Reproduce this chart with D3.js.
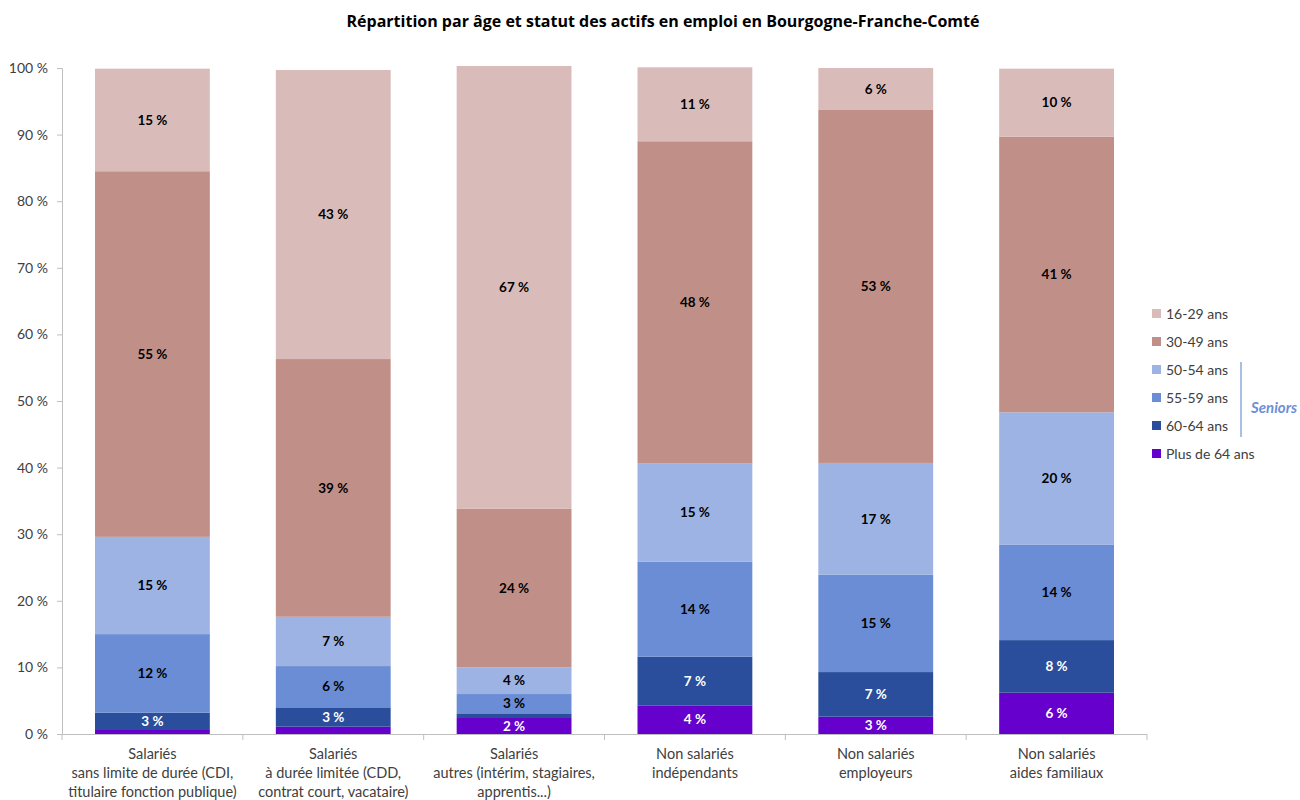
<!DOCTYPE html>
<html><head><meta charset="utf-8">
<script src="https://cdn.jsdelivr.net/npm/d3@7"></script>
<style>body{margin:0;background:#fff;} svg{display:block;font-family:Lato,"Open Sans",sans-serif;}</style>
</head><body>
<svg id="c" width="1300" height="800"></svg>
<script>
const title = "Répartition par âge et statut des actifs en emploi en Bourgogne-Franche-Comté";
const categories = [
  ["Salariés","sans limite de durée (CDI,","titulaire fonction publique)"],
  ["Salariés","à durée limitée (CDD,","contrat court, vacataire)"],
  ["Salariés","autres (intérim, stagiaires,","apprentis...)"],
  ["Non salariés","indépendants"],
  ["Non salariés","employeurs"],
  ["Non salariés","aides familiaux"]
];
const seriesNames = ["Plus de 64 ans","60-64 ans","55-59 ans","50-54 ans","30-49 ans","16-29 ans"];
const seriesColors = ["#6600cc","#2a4e9c","#6a8dd6","#9db3e3","#c09088","#d9bcb9"];
const plus64  = [0.6, 1.1, 2.4, 4.3, 2.6, 6.2];
const age6064 = [2.6, 2.9, 0.7, 7.3, 6.7, 7.9];
const age5559 = [11.8, 6.2, 2.9, 14.3, 14.6, 14.3];
const age5054 = [14.6, 7.4, 4.0, 14.7, 16.8, 19.9];
const age3049 = [54.9, 38.7, 23.8, 48.4, 53.0, 41.4];
const age1629 = [15.4, 43.4, 66.5, 11.1, 6.3, 10.2];
const yTicks = [0,10,20,30,40,50,60,70,80,90,100];
const seniorsLabel = "Seniors";

const seriesValues = [plus64, age6064, age5559, age5054, age3049, age1629];
const labelColors = ["#ffffff","#ffffff","#000000","#000000","#000000","#000000"];

const svg = d3.select("#c");
const x = d3.scaleBand().domain(d3.range(categories.length)).range([62,1147]).paddingInner(0.365).paddingOuter(0.1825);
const y = d3.scaleLinear().domain([0,100]).range([734,68]);

svg.append("text").attr("x",663).attr("y",27).attr("text-anchor","middle")
  .attr("font-family","'Open Sans',sans-serif")
  .attr("font-size",16).attr("font-weight","bold").attr("fill","#000").text(title);

// Y axis
const yAxis = svg.append("g").attr("transform","translate(62,0)")
  .call(d3.axisLeft(y).tickValues(yTicks).tickSize(5).tickFormat(d=>d+" %"));
yAxis.select(".domain").attr("stroke","#bfbfbf");
yAxis.selectAll(".tick line").attr("stroke","#bfbfbf");
yAxis.selectAll(".tick text").attr("font-size",14).attr("fill","#404040").attr("x",-14)
  .attr("font-family","Lato,sans-serif");

// X axis line + ticks at boundaries
const bounds = d3.range(categories.length+1).map(i=> 62 + i*(1147-62)/categories.length);
svg.append("line").attr("x1",62).attr("x2",1147).attr("y1",734.5).attr("y2",734.5).attr("stroke","#bfbfbf");
svg.selectAll(".xt").data(bounds).enter().append("line")
  .attr("x1",d=>d).attr("x2",d=>d).attr("y1",734).attr("y2",740).attr("stroke","#bfbfbf");

// stacked bars
const stackData = categories.map((c,i)=>{ const o={i}; seriesNames.forEach((s,k)=>o[s]=seriesValues[k][i]); return o;});
const stacked = d3.stack().keys(seriesNames)(stackData);
const g = svg.append("g");
stacked.forEach((layer,k)=>{
  g.selectAll(null).data(layer).enter().append("rect")
    .attr("x",d=>x(d.data.i)).attr("width",x.bandwidth())
    .attr("y",d=>y(d[1])).attr("height",d=>y(d[0])-y(d[1]))
    .attr("fill",seriesColors[k]);
});
stacked.forEach((layer,k)=>{
  g.selectAll(null).data(layer.filter(d=>(d[1]-d[0])>=2)).enter().append("text")
    .attr("x",d=>x(d.data.i)+x.bandwidth()/2).attr("y",d=>(y(d[0])+y(d[1]))/2)
    .attr("dy","0.35em").attr("text-anchor","middle").attr("font-size",13.5).attr("font-weight","bold")
    .attr("fill",labelColors[k]).text(d=>Math.round(d[1]-d[0])+" %");
});

// X labels
categories.forEach((lines,i)=>{
  const t = svg.append("text").attr("text-anchor","middle").attr("font-size",14.5).attr("fill","#404040");
  lines.forEach((l,j)=> t.append("tspan").attr("x",x(i)+x.bandwidth()/2).attr("y",759+j*19).text(l));
});

// Legend
const legOrder = seriesNames.map((s,k)=>k).reverse();
legOrder.forEach((k,r)=>{
  const yy = 314 + r*28;
  svg.append("rect").attr("x",1152).attr("y",yy-5).attr("width",9).attr("height",9).attr("fill",seriesColors[k]);
  svg.append("text").attr("x",1166).attr("y",yy).attr("dy","0.35em").attr("font-size",14).attr("fill","#404040").text(seriesNames[k]);
});
svg.append("line").attr("x1",1241).attr("x2",1241).attr("y1",362).attr("y2",437).attr("stroke","#8eaadb").attr("stroke-width",1.5);
svg.append("text").attr("x",1251).attr("y",408).attr("dy","0.35em").attr("font-size",15).attr("font-weight","bold")
  .attr("font-style","italic").attr("fill","#6f8fd8").text(seniorsLabel);
</script>
</body></html>
